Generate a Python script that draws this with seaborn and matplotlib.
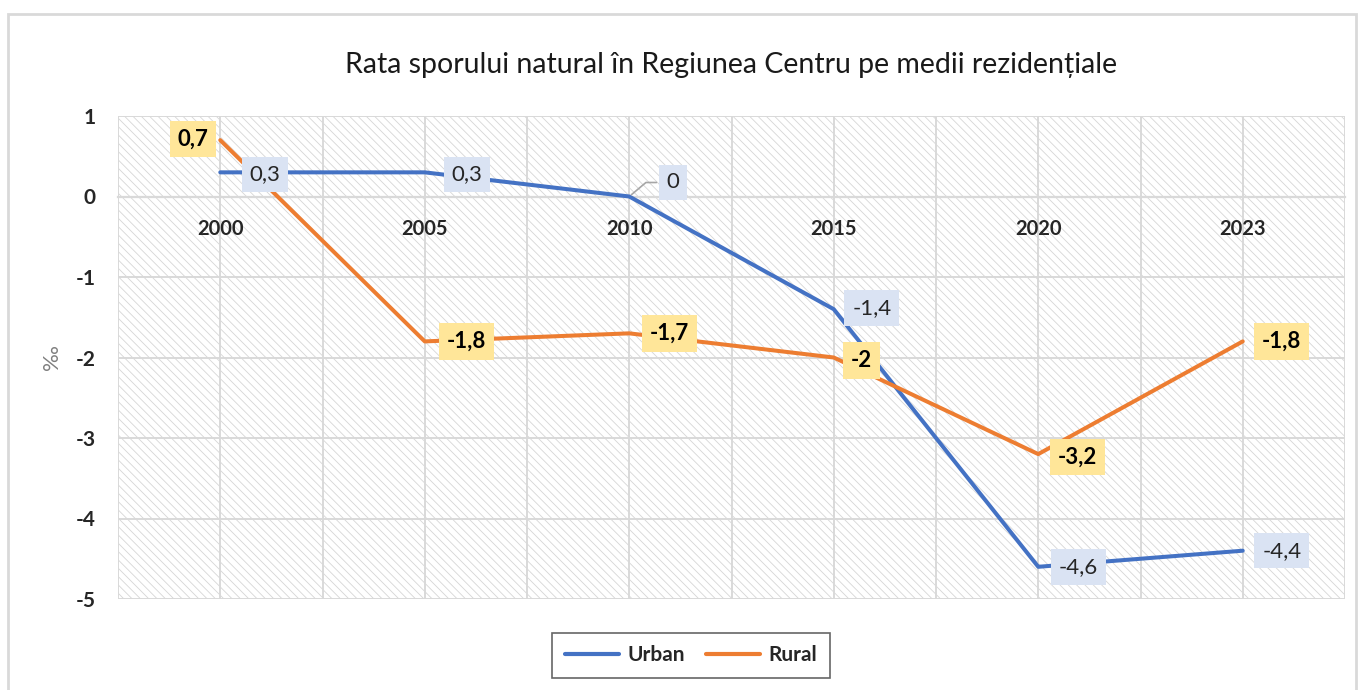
import pandas as pd
import matplotlib.pyplot as plt
import matplotlib.patches as mpatches
import seaborn as sns
import numpy as np

years = ['2000', '2005', '2010', '2015', '2020', '2023']
urban = [0.3, 0.3, 0.0, -1.4, -4.6, -4.4]
rural = [0.7, -1.8, -1.7, -2.0, -3.2, -1.8]
urban_lbl = ['0,3', '0,3', '0', '-1,4', '-4,6', '-4,4']
rural_lbl = ['0,7', '-1,8', '-1,7', '-2', '-3,2', '-1,8']

BLUE = '#4472C4'
ORANGE = '#ED7D31'
GRID = '#D9D9D9'

sns.set_theme(style='white')
plt.rcParams['font.family'] = ['Lato', 'DejaVu Sans']
plt.rcParams['hatch.linewidth'] = 0.6

df = pd.DataFrame({
    'An': years * 2,
    'x': list(range(len(years))) * 2,
    'val': urban + rural,
    'Mediu': ['Urban'] * len(years) + ['Rural'] * len(years),
})

fig = plt.figure(figsize=(13.63, 6.90), dpi=100)
fig.patch.set_facecolor('white')
fig.add_artist(mpatches.Rectangle((8/1363, -0.02), 1348/1363, 1 - 14/690 + 0.02,
                                  transform=fig.transFigure, fill=False,
                                  edgecolor=GRID, linewidth=2))

ax = fig.add_axes([118/1363, 1 - 599/690, (1345 - 118)/1363, (599 - 116)/690])
ax.add_patch(mpatches.Rectangle((0, 0), 1, 1, transform=ax.transAxes,
                                facecolor='white', edgecolor='#D6D6D6', linewidth=0,
                                hatch='\\\\\\\\', zorder=0))

sns.lineplot(data=df, x='x', y='val', hue='Mediu', palette=[BLUE, ORANGE],
             linewidth=2.9, sort=False, ax=ax, zorder=3)

for s in ['top', 'right', 'left']:
    ax.spines[s].set_visible(False)
ax.spines['bottom'].set_position(('data', 0))
ax.spines['bottom'].set_color(GRID)
ax.spines['bottom'].set_linewidth(1.6)

ax.set_xlim(-0.5, len(years) - 0.5)
ax.set_ylim(-5, 1)
ax.set_xticks(range(len(years)))
ax.set_xticklabels(years, fontweight='bold', fontsize=14.5)
ax.set_xticks(np.arange(-0.5, len(years), 1.0), minor=True)
ax.set_yticks(range(-5, 2))
ax.set_yticklabels([str(v) for v in range(-5, 2)], fontweight='bold', fontsize=15)
ax.grid(True, which='both', color=GRID, linewidth=1.4, zorder=1)
ax.set_axisbelow(True)
ax.tick_params(axis='x', which='both', length=0, pad=16)
ax.tick_params(axis='y', length=0, pad=16)
ax.set_xlabel('')
ax.set_ylabel('‰', color='#7F7F7F', fontsize=16, labelpad=10)

# data labels (pixel offsets)
u_off = [(45, -2), (42, -2), (44, 14), (38, 1), (40, 0), (39, 0)]
r_off = [(-27, 1), (42, 0), (40, 0), (28, -3), (39, -3), (39, 0)]
for i in range(len(years)):
    dx, dy = u_off[i]
    ax.annotate(urban_lbl[i], (i, urban[i]), xytext=(dx, dy),
                textcoords='offset pixels', ha='center', va='center',
                fontsize=16, color='#262626', zorder=5,
                bbox=dict(boxstyle='square,pad=0.35', fc='#DAE3F3', ec='none'))
    dx, dy = r_off[i]
    ax.annotate(rural_lbl[i], (i, rural[i]), xytext=(dx, dy),
                textcoords='offset pixels', ha='center', va='center',
                fontsize=16, fontweight='bold', color='black', zorder=5,
                bbox=dict(boxstyle='square,pad=0.35', fc='#FFE699', ec='none'))

# leader line for the zero label
ax.annotate('', (2, 0), xytext=(30, 14), textcoords='offset pixels',
            arrowprops=dict(arrowstyle='-', color='#A6A6A6', lw=1.2,
                            connectionstyle='angle,angleA=0,angleB=40,rad=0'),
            zorder=4)

ax.set_title('Rata sporului natural în Regiunea Centru pe medii rezidențiale',
             fontsize=20.5, color='#1a1a1a', pad=31)

leg = ax.legend(loc='center', bbox_to_anchor=(691/1363, 1 - 655/690),
                bbox_transform=fig.transFigure, ncol=2, frameon=True,
                fancybox=False, edgecolor='#404040', handlelength=2.6,
                handletextpad=0.4, borderpad=0.6, columnspacing=1.0,
                prop={'weight': 'bold', 'size': 15})
leg.get_frame().set_linewidth(1.2)
for h in leg.get_lines():
    h.set_linewidth(3)
    h.set_solid_capstyle('round')

plt.savefig('out.png', dpi=100, facecolor='white')
